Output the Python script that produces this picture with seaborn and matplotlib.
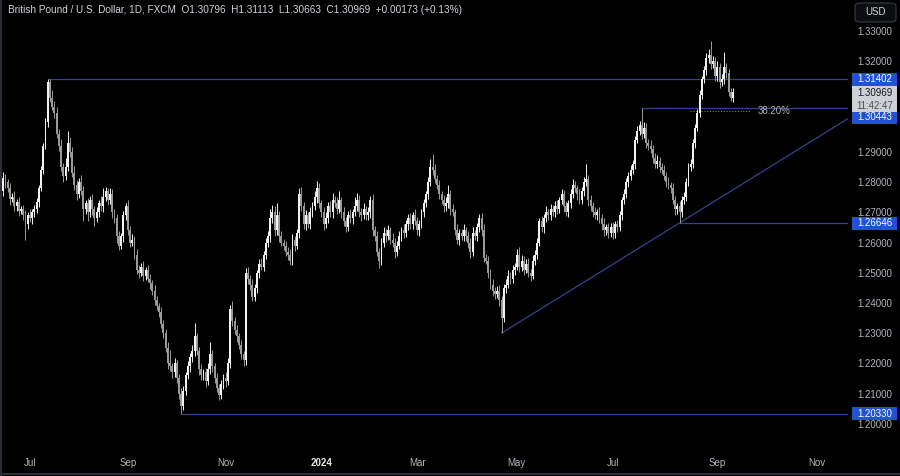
import numpy as np
import seaborn as sns
import matplotlib.pyplot as plt
import matplotlib.transforms as mtransforms
from matplotlib.patches import Rectangle, FancyBboxPatch
from matplotlib.lines import Line2D

# --- DATOS (GBP/USD diario, FXCM) ---
first_open = 1.2740
closes = [
    1.2770, 1.2815, 1.2800, 1.2780, 1.2745, 1.2750, 1.2720, 1.2735, 1.2705, 1.2710,
    1.2690, 1.2660, 1.2690, 1.2680, 1.2700, 1.2710, 1.2735, 1.2780, 1.2840, 1.2920,
    1.3000, 1.3130, 1.3080, 1.3050, 1.3030, 1.2960, 1.2920, 1.2850, 1.2820, 1.2850,
    1.2930, 1.2900, 1.2830, 1.2790, 1.2760, 1.2800, 1.2770, 1.2710, 1.2730, 1.2700,
    1.2740, 1.2710, 1.2680, 1.2700, 1.2730, 1.2720, 1.2750, 1.2770, 1.2740, 1.2760,
    1.2700, 1.2680, 1.2620, 1.2590, 1.2620, 1.2690, 1.2720, 1.2640, 1.2600, 1.2610,
    1.2560, 1.2510, 1.2500, 1.2520, 1.2490, 1.2510, 1.2480, 1.2465, 1.2440, 1.2410,
    1.2390, 1.2370, 1.2330, 1.2300, 1.2250, 1.2200, 1.2190, 1.2170, 1.2200, 1.2150,
    1.2100, 1.2060, 1.2110, 1.2160, 1.2190, 1.2220, 1.2240, 1.2290, 1.2240, 1.2180,
    1.2160, 1.2170, 1.2140, 1.2180, 1.2230, 1.2190, 1.2150, 1.2120, 1.2095, 1.2130,
    1.2150, 1.2140, 1.2200, 1.2380, 1.2340, 1.2310, 1.2290, 1.2260, 1.2230, 1.2210,
    1.2500, 1.2480, 1.2460, 1.2420, 1.2450, 1.2500, 1.2530, 1.2520, 1.2560, 1.2600,
    1.2620, 1.2680, 1.2700, 1.2640, 1.2690, 1.2620, 1.2600, 1.2590, 1.2570, 1.2560,
    1.2540, 1.2610, 1.2590, 1.2630, 1.2760, 1.2720, 1.2660, 1.2690, 1.2660, 1.2700,
    1.2720, 1.2750, 1.2780, 1.2730, 1.2700, 1.2660, 1.2680, 1.2720, 1.2700, 1.2740,
    1.2730, 1.2710, 1.2740, 1.2700, 1.2670, 1.2650, 1.2690, 1.2680, 1.2700, 1.2720,
    1.2740, 1.2700, 1.2690, 1.2710, 1.2690, 1.2700, 1.2740, 1.2640, 1.2620, 1.2570,
    1.2540, 1.2600, 1.2630, 1.2620, 1.2640, 1.2610, 1.2600, 1.2570, 1.2590, 1.2620,
    1.2640, 1.2630, 1.2660, 1.2680, 1.2660, 1.2690, 1.2670, 1.2640, 1.2660, 1.2700,
    1.2730, 1.2760, 1.2800, 1.2850, 1.2840, 1.2810, 1.2790, 1.2760, 1.2740, 1.2720,
    1.2730, 1.2760, 1.2710, 1.2700, 1.2640, 1.2610, 1.2630, 1.2620, 1.2640, 1.2620,
    1.2600, 1.2570, 1.2630, 1.2620, 1.2650, 1.2680, 1.2640, 1.2550, 1.2540, 1.2500,
    1.2460, 1.2440, 1.2430, 1.2440, 1.2410, 1.2350, 1.2450, 1.2460, 1.2490, 1.2480,
    1.2510, 1.2520, 1.2560, 1.2520, 1.2540, 1.2510, 1.2530, 1.2500, 1.2490, 1.2540,
    1.2560, 1.2600, 1.2670, 1.2650, 1.2680, 1.2700, 1.2690, 1.2710, 1.2700, 1.2720,
    1.2710, 1.2740, 1.2760, 1.2720, 1.2700, 1.2730, 1.2760, 1.2790, 1.2780, 1.2760,
    1.2740, 1.2770, 1.2800, 1.2810, 1.2740, 1.2720, 1.2700, 1.2690, 1.2700, 1.2680,
    1.2660, 1.2640, 1.2650, 1.2630, 1.2650, 1.2630, 1.2660, 1.2650, 1.2690, 1.2740,
    1.2760, 1.2800, 1.2820, 1.2840, 1.2860, 1.2940, 1.2970, 1.2990, 1.2960, 1.2980,
    1.2930, 1.2920, 1.2910, 1.2880, 1.2860, 1.2870, 1.2850, 1.2840, 1.2820, 1.2800,
    1.2790, 1.2780, 1.2740, 1.2710, 1.2720, 1.2700, 1.2740, 1.2750, 1.2800, 1.2850,
    1.2860, 1.2930, 1.2980, 1.3030, 1.3090, 1.3140, 1.3170, 1.3210, 1.3220, 1.3190,
    1.3200, 1.3150, 1.3180, 1.3130, 1.3140, 1.3180, 1.3160, 1.3100, 1.30796, 1.30969,
]
# mechas en pips
wick_up = [
    15, 20, 12, 10, 18, 14, 22, 10, 16, 12,
    14, 18, 12, 20, 10, 15, 12, 10, 14, 8,
    12, 12, 10, 25, 18, 20, 15, 22, 12, 30,
    40, 20, 15, 22, 18, 14, 25, 18, 12, 16,
    14, 20, 12, 18, 10, 25, 30, 15, 12, 20,
    16, 12, 14, 18, 10, 15, 12, 20, 14, 18,
    12, 20, 15, 12, 18, 10, 14, 16, 12, 20,
    14, 10, 18, 12, 15, 20, 45, 12, 18, 10,
    14, 20, 16, 12, 18, 15, 20, 45, 12, 14,
    18, 12, 16, 20, 40, 14, 12, 18, 10, 16,
    14, 20, 18, 12, 25, 14, 18, 10, 16, 12,
    15, 20, 12, 18, 14, 10, 16, 20, 12, 14,
    18, 30, 25, 20, 40, 15, 18, 12, 16, 14,
    20, 18, 12, 14, 20, 25, 15, 18, 12, 16,
    14, 20, 25, 18, 12, 16, 20, 14, 18, 25,
    15, 20, 30, 12, 18, 14, 16, 20, 12, 30,
    25, 18, 14, 20, 12, 16, 15, 20, 14, 18,
    12, 16, 20, 14, 18, 12, 20, 14, 16, 18,
    12, 20, 14, 16, 18, 12, 20, 14, 16, 12,
    14, 12, 16, 25, 43, 20, 14, 18, 12, 16,
    20, 30, 14, 18, 12, 20, 14, 16, 20, 12,
    18, 14, 20, 12, 16, 14, 18, 20, 12, 16,
    14, 18, 12, 16, 20, 14, 12, 18, 20, 14,
    16, 12, 20, 25, 18, 14, 16, 20, 12, 18,
    14, 16, 12, 18, 14, 20, 12, 16, 14, 18,
    20, 12, 16, 14, 18, 12, 16, 20, 14, 12,
    18, 14, 16, 50, 12, 18, 14, 16, 12, 18,
    14, 20, 12, 16, 14, 18, 12, 16, 14, 12,
    16, 14, 12, 18, 14, 12, 16, 14, 54, 20,
    16, 14, 18, 12, 16, 20, 14, 12, 18, 14,
    16, 12, 18, 14, 12, 16, 14, 18, 12, 14,
    16, 12, 14, 12, 16, 12, 14, 18, 20, 46,
    18, 14, 20, 16, 18, 50, 14, 16, 12, 14.4,
]
wick_dn = [
    12, 16, 18, 14, 20, 12, 16, 14, 18, 12,
    16, 50, 14, 12, 18, 14, 12, 16, 10, 14,
    10, 16, 14, 12, 18, 14, 16, 12, 20, 14,
    12, 18, 14, 16, 20, 12, 14, 40, 16, 30,
    14, 18, 25, 12, 16, 14, 18, 12, 16, 14,
    18, 14, 20, 16, 12, 18, 14, 16, 14, 12,
    16, 14, 18, 12, 16, 14, 12, 18, 14, 16,
    12, 18, 14, 16, 12, 18, 14, 20, 16, 14,
    18, 27, 14, 16, 12, 18, 14, 16, 12, 20,
    14, 16, 18, 12, 16, 20, 14, 16, 18, 14,
    16, 18, 12, 14, 16, 12, 18, 14, 16, 20,
    14, 16, 18, 12, 14, 16, 18, 12, 14, 16,
    14, 18, 16, 20, 14, 18, 12, 16, 14, 18,
    16, 14, 18, 12, 14, 16, 14, 18, 12, 16,
    14, 12, 18, 16, 14, 18, 12, 14, 16, 18,
    14, 16, 12, 18, 14, 16, 12, 14, 18, 12,
    14, 16, 18, 12, 14, 16, 18, 20, 14, 16,
    25, 14, 16, 18, 12, 14, 16, 20, 14, 12,
    14, 16, 12, 18, 14, 16, 12, 14, 18, 12,
    14, 12, 16, 14, 18, 12, 14, 16, 12, 18,
    14, 16, 18, 12, 14, 16, 18, 12, 14, 16,
    18, 20, 14, 12, 16, 14, 18, 14, 12, 16,
    14, 18, 16, 14, 20, 50, 14, 16, 12, 18,
    14, 16, 12, 18, 14, 16, 12, 14, 18, 12,
    14, 16, 12, 14, 18, 12, 14, 16, 12, 14,
    16, 12, 14, 18, 12, 14, 16, 12, 14, 18,
    12, 14, 16, 12, 18, 14, 16, 12, 14, 16,
    18, 20, 14, 16, 12, 18, 14, 16, 12, 14,
    12, 14, 16, 12, 14, 16, 12, 14, 16, 14,
    16, 12, 14, 16, 14, 12, 16, 14, 12, 16,
    14, 16, 12, 18, 14, 35, 16, 14, 12, 14,
    12, 14, 16, 12, 14, 16, 12, 14, 16, 14,
    12, 16, 14, 18, 12, 14, 16, 14, 12, 13.3,
]

# niveles horizontales (precio, vela de inicio)
level_prices = [1.31402, 1.30443, 1.26646, 1.20330]
level_start = [21, 288, 305, 81]
level_label_shift = [0, 9, 0, 0]   # px hacia abajo, para no pisar la etiqueta del precio
trend_anchors = [225, 305]          # velas del minimo de abril y de agosto
fib_ratio = 0.382
fib_anchors = [305, 319]

month_labels = ['Jul', 'Sep', 'Nov', '2024', 'Mar', 'May', 'Jul', 'Sep', 'Nov']
month_pos = [13, 57, 101, 144.3, 187.4, 231.5, 275, 321.8, 366.7]
price_ticks = [1.20, 1.21, 1.22, 1.23, 1.24, 1.25, 1.26, 1.27, 1.28, 1.29, 1.32, 1.33]
title = 'British Pound / U.S. Dollar, 1D, FXCM'
clock = '11:42:47'

# --- ESTILO ---
UP = '#f2f2f2'
DOWN = '#9a9a9a'
LINE = '#36438f'
BLUE = '#2052d6'
TXT = '#b2b5be'

sns.set_theme(style='dark')
plt.rcParams['font.family'] = ['Liberation Sans', 'DejaVu Sans']

W, H = 900, 476
fig = plt.figure(figsize=(9, 4.76), dpi=100, facecolor='black')
ax = fig.add_axes([0, 29 / H, 848 / W, 447 / H])
ax.set_facecolor('black')
for s in ax.spines.values():
    s.set_visible(False)
ax.grid(False)

# --- VELAS ---
c = np.array(closes)
n = len(c)
idx = np.arange(n)
o = np.r_[first_open, c[:-1]]
hi = np.maximum(o, c) + np.array(wick_up) / 1e4
lo = np.minimum(o, c) - np.array(wick_dn) / 1e4
col = np.where(c >= o, UP, DOWN)

ax.vlines(idx, lo, hi, colors=col, lw=0.7, zorder=3)
ax.bar(idx, np.maximum(np.abs(c - o), 0.0003), bottom=np.minimum(o, c),
       width=0.85, color=col, linewidth=0, zorder=4)

xmax = 380.7
ax.set_xlim(-0.45, xmax)
ax.set_ylim(1.1923, 1.3403)

# --- NIVELES Y TENDENCIA ---
for p, s in zip(level_prices, level_start):
    ax.hlines(p, s, xmax, colors=LINE, lw=0.9, zorder=2)

t0, t1 = trend_anchors
slope = (lo[t1] - lo[t0]) / (t1 - t0)
sns.lineplot(x=[t0, xmax], y=[lo[t0], lo[t0] + slope * (xmax - t0)], ax=ax,
             color=LINE, lw=0.9, zorder=2)

f_lo, f_hi = lo[fib_anchors[0]], hi[fib_anchors[1]]
fib_level = f_hi - fib_ratio * (f_hi - f_lo)
ax.hlines(fib_level, 309.7, 336.6, colors='#787b86', lw=0.8, linestyles=(0, (1, 1.5)), zorder=2)
ax.text(340.2, fib_level, f'{fib_ratio * 100:.2f}%', color=TXT, fontsize=7, va='center', ha='left')

# --- EJES ---
ax.yaxis.tick_right()
ax.set_yticks(price_ticks)
ax.set_yticklabels([f'{v:.5f}' for v in price_ticks])
ax.tick_params(axis='y', length=0, pad=7, labelsize=7, labelcolor=TXT)
ax.set_xticks(month_pos)
ax.set_xticklabels(month_labels)
ax.tick_params(axis='x', length=0, pad=8, labelsize=7, labelcolor=TXT)
for lab in ax.get_xticklabels():
    if lab.get_text() == '2024':
        lab.set_color('#e8e8e8')
        lab.set_fontweight('bold')

# etiquetas de precio en el eje derecho
trans = mtransforms.blended_transform_factory(ax.transAxes, ax.transData)
px = (ax.get_ylim()[1] - ax.get_ylim()[0]) / 447.0
for p, sh in zip(level_prices, level_label_shift):
    yc = p - sh * px
    ax.add_patch(Rectangle((852 / 848, yc - 6.5 * px), 45 / 848, 13 * px, transform=trans,
                           facecolor=BLUE, edgecolor='none', clip_on=False, zorder=10))
    ax.text(874.5 / 848, yc, f'{p:.5f}', transform=trans, color='white', fontsize=7,
            ha='center', va='center', clip_on=False, zorder=11)

last = c[-1]
ax.add_patch(Rectangle((852 / 848, last - 20 * px), 45 / 848, 26 * px, transform=trans,
                       facecolor='#cfd1d6', edgecolor='none', clip_on=False, zorder=10))
ax.text(874.5 / 848, last - 0.5 * px, f'{last:.5f}', transform=trans, color='#131722',
        fontsize=7, ha='center', va='center', clip_on=False, zorder=11)
ax.text(874.5 / 848, last - 13.5 * px, clock, transform=trans, color='#4a4d57',
        fontsize=7, ha='center', va='center', clip_on=False, zorder=11)

# --- CABECERA ---
chg = c[-1] - o[-1]
header = (f'{title}  O{o[-1]:.5f}  H{hi[-1]:.5f}  L{lo[-1]:.5f}  C{c[-1]:.5f}  '
          f'{chg:+.5f} ({chg / o[-1] * 100:+.2f}%)')
fig.text(8 / W, 1 - 10 / H, header, color='#d1d4dc', fontsize=7.2, va='center', ha='left')

fig.patches.append(FancyBboxPatch((855 / W, 1 - 22 / H), 41 / W, 19 / H,
                                  boxstyle='round,pad=0,rounding_size=0.006',
                                  transform=fig.transFigure, facecolor='#0c0d10',
                                  edgecolor='#363a45', lw=0.8))
fig.text(875.5 / W, 1 - 12 / H, 'USD', color='#d1d4dc', fontsize=7, ha='center', va='center')

# bordes de la ventana
fig.add_artist(Line2D([1 / W, 1 / W], [0, 1], color='#2a2e39', lw=1.5, transform=fig.transFigure))
fig.add_artist(Line2D([0, 1], [2 / H, 2 / H], color='#2a2e39', lw=1.5, transform=fig.transFigure))

fig.savefig('out.png', dpi=100, facecolor='black')
